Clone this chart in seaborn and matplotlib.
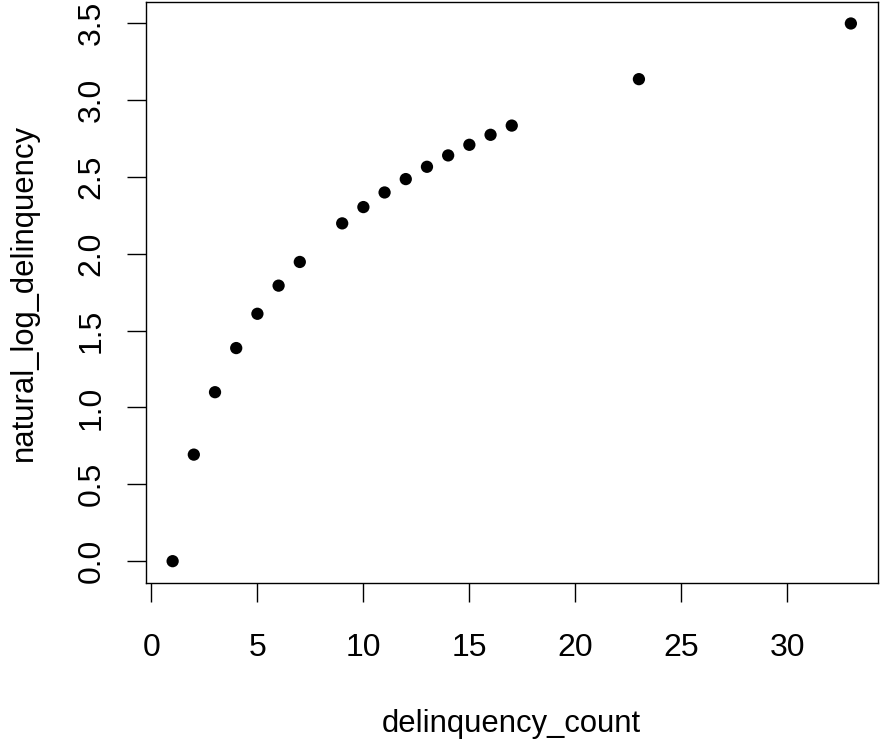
import matplotlib
matplotlib.use("Agg")
import matplotlib.pyplot as plt
import seaborn as sns
import pandas as pd

delinquency_count = [1, 2, 3, 4, 5, 6, 7, 9, 10, 11, 12, 13, 14, 15, 16, 17, 23, 33]
natural_log_delinquency = [0.000, 0.693, 1.099, 1.386, 1.609, 1.792, 1.946, 2.197, 2.303,
                           2.398, 2.485, 2.565, 2.639, 2.708, 2.773, 2.833, 3.135, 3.497]
x_ticks = [0, 5, 10, 15, 20, 25, 30]
y_ticks = [0.0, 0.5, 1.0, 1.5, 2.0, 2.5, 3.0, 3.5]

df = pd.DataFrame({"delinquency_count": delinquency_count,
                   "natural_log_delinquency": natural_log_delinquency})

sns.set_theme(style="white")
plt.rcParams["font.family"] = ["Liberation Sans", "DejaVu Sans"]

W, H = 880, 744
L, R, T, B = 145.5, 878, 1.5, 582.7
fig = plt.figure(figsize=(W / 100, H / 100), dpi=100)
ax = fig.add_axes([L / W, 1 - B / H, (R - L) / W, (B - T) / H])

sns.scatterplot(data=df, x="delinquency_count", y="natural_log_delinquency", ax=ax,
                color="black", s=78, edgecolor="none", linewidth=0)

ax.set_xlim(-0.28, 34.28)
ax.set_ylim(-0.14, 3.64)
ax.set_xticks(x_ticks)
ax.set_xticklabels([f"{v:g}" for v in x_ticks])
ax.set_yticks(y_ticks)
ax.set_yticklabels([f"{v:.1f}" for v in y_ticks], rotation=90, va="center")

tick_fs = 23
lab_fs = 22.3
ax.tick_params(axis="both", direction="out", length=13.5, width=1.0, color="black",
               labelsize=tick_fs, labelcolor="black", bottom=True, left=True)
ax.tick_params(axis="x", pad=22.5)
ax.tick_params(axis="y", pad=14.5)
for sp in ax.spines.values():
    sp.set_visible(True)
    sp.set_color("black")
    sp.set_linewidth(1.0)

ax.set_xlabel("delinquency_count", fontsize=lab_fs, color="black")
ax.xaxis.label.set_va("baseline")
ax.xaxis.set_label_coords(0.5, -(732 - B) / (B - T))

ax.set_ylabel("natural_log_delinquency", fontsize=lab_fs, color="black")
ax.yaxis.label.set_rotation_mode("default")
ax.yaxis.label.set_ha("center")
ax.yaxis.label.set_va("center")
ax.yaxis.set_label_coords((24 - L) / (R - L), 0.5)

fig.savefig("out.png", dpi=100, facecolor="white")
